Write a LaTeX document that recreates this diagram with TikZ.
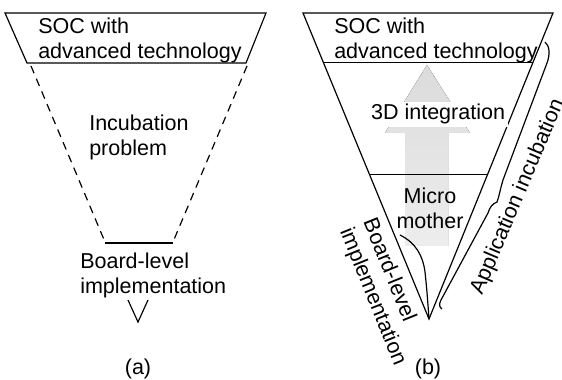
\documentclass[tikz,border=0pt]{standalone}
\usepackage{fontspec}
\setmainfont{Liberation Sans}
\usepackage{tikz}
\usetikzlibrary{calc,positioning}

\begin{document}
\begin{tikzpicture}[
  x=0.025cm, y=-0.025cm,
  txt/.style={font=\fontsize{15.3}{17.8}\selectfont, inner sep=0pt, align=left},
  frame/.style={line width=0.85pt, line join=miter},
  guide/.style={frame, dashed, dash pattern=on 5.6pt off 4.2pt},
  flow/.style={draw=none, top color=black!14, bottom color=black!7},
  capt/.style={font=\fontsize{15.3}{17.8}\selectfont, inner sep=0pt},
]
\useasboundingbox (0,0) rectangle (562,380);

% (a) incubation problem
\coordinate (atl) at (5,13);
\coordinate (atr) at (266,13);
\coordinate (abr) at (246,63);
\coordinate (abl) at (27,63);
\coordinate (ald) at (105,242);
\coordinate (ard) at (173,242);
\draw[frame] (atl) -- (atr) -- (abr) -- (abl) -- cycle;
\draw[guide] ($(abl)+(4,3)$) -- (ald);
\draw[guide] ($(abr)+(1,3)$) -- (ard);
\draw[frame] ($(ald)+(0,1)$) -- ($(ard)+(0,1)$);
\coordinate (avl) at (128,300);
\coordinate (avb) at (138,322);
\coordinate (avr) at (148,300);
\draw[frame] (avl) -- (avb) -- (avr);

\node[txt, anchor=north west] (asoc) at (38,18) {SOC with\\advanced technology};
\node[txt, anchor=north west] (ainc) at (89,115) {Incubation\\problem};
\node[txt, anchor=north west] (abrd) at (80,253) {Board-level\\implementation};
\node[capt, anchor=base] (acap) at (138,375) {(a)};

% (b) micro mother
\coordinate (btl) at (303,13);
\coordinate (btr) at (553,13);
\coordinate (bap) at (429,319);

% big gray arrow
\fill[flow] (405,246) -- (405,133) -- (385,133) -- (427,65) -- (470,133)
  -- (448,133) -- (448,246) -- cycle;

\draw[frame] (btl) -- (btr) -- (bap) -- cycle;
\draw[frame] ($(btl)!0.163!(bap)$) -- ($(btr)!0.163!(bap)$);
\draw[frame] ($(btl)!0.529!(bap)$) -- ($(btr)!0.529!(bap)$);

\node[txt, anchor=north west] (bsoc) at (334,18) {SOC with\\advanced technology};
\node[txt, anchor=base west, fill=white, inner sep=2pt] (b3d) at (368,120) {3D integration};
\node[txt, anchor=north, align=center] (bmm) at (430,188) {Micro\\mother};

% braces
\draw[frame] (545,42) .. controls (550,46) and (550,55) .. (547,63) -- (503,180)
  .. controls (500,190) and (499,197) .. (497,202)
  .. controls (492,204) and (490,207) .. (488,213) -- (441,300)
  .. controls (439,304) and (439,307) .. (442,309);
\draw[frame] (400,235) .. controls (416,243) and (423,256) .. (425,272)
  .. controls (427,290) and (428,305) .. (bap);

\node[txt, rotate=-68] (bbrd) at (384,292) {Board-level\\implementation};
\node[txt, rotate=67] (bapp) at (518,197) {Application incubation};
\node[capt, anchor=base] (bcap) at (428,375) {(b)};

\end{tikzpicture}
\end{document}
